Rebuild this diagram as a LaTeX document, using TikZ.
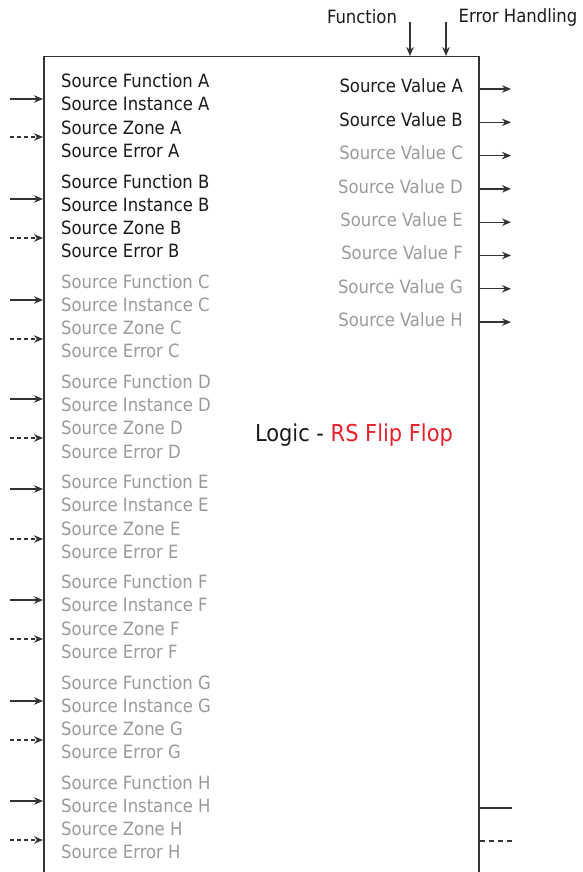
\documentclass[tikz,border=0pt]{standalone}
\usepackage{fontspec}
\setmainfont{DejaVu Sans Condensed}
\usepackage{xcolor}
\usetikzlibrary{arrows.meta}
\definecolor{edge}{HTML}{333333}
\definecolor{ink}{HTML}{1A1A1A}
\definecolor{idle}{HTML}{9A9A9A}
\definecolor{flip}{HTML}{E8202A}

\begin{document}
\begin{tikzpicture}[
  x=1pt, y=-1pt,
  font=\fontsize{18.3}{20}\selectfont,
  lbl/.style ={inner sep=0pt, anchor=west},
  val/.style ={inner sep=0pt, anchor=east},
  ar/.style  ={-{Stealth[length=9pt, width=7.5pt]}, edge, line width=1.3pt},
  ard/.style ={ar, dash pattern=on 4pt off 3pt},
  stub/.style={edge, line width=1.3pt}
]
\useasboundingbox (0,0) rectangle (582,872);
\clip (0,0) rectangle (582,872);

% =============== block ===============
\node[draw=edge, line width=1.5pt, anchor=north west, inner sep=0pt,
      minimum width=435pt, minimum height=860pt] (logic) at (43,56) {};
\node[font=\fontsize{23.3}{26}\selectfont, inner sep=0pt, text=ink] (title) at (354,435)
  {Logic - \textcolor{flip}{RS Flip Flop}};

% function and error handling enter from the top
\node[inner sep=0pt, text=ink] (fnlbl) at (362,17) {Function};
\node[inner sep=0pt, text=ink] (ehlbl) at (518,17) {Error Handling};
\coordinate (fnin) at (410,22);
\coordinate (ehin) at (446,22);
\draw[ar] (fnin) -- (fnin |- logic.north);
\draw[ar] (ehin) -- (ehin |- logic.north);

% =============== sources A..H ===============
% four lines per source, one solid and one dashed input beside each group
\foreach \s/\k/\ya/\yb/\c in {A/0/99/137/ink, B/1/199/238/ink, C/2/300/339/idle,
    D/3/399/438/idle, E/4/489/539/idle, F/5/600/639/idle, G/6/701/740/idle,
    H/7/801/840/idle}{
  \node[lbl, text=\c] (sf\s) at (61, 81+100.2*\k)  {Source Function \s};
  \node[lbl, text=\c] (si\s) at (61, 104.3+100.2*\k) {Source Instance \s};
  \node[lbl, text=\c] (sz\s) at (61, 127.6+100.2*\k) {Source Zone \s};
  \node[lbl, text=\c] (se\s) at (61, 150.9+100.2*\k) {Source Error \s};
  \coordinate (in\s) at (10,\ya);
  \coordinate (er\s) at (10,\yb);
  \draw[ar]  (in\s) -- (in\s -| logic.west);
  \draw[ard] (er\s) -- (er\s -| logic.west);
}

% =============== values A..H ===============
\foreach \s/\k/\c in {A/0/ink, B/1/ink, C/2/idle, D/3/idle, E/4/idle, F/5/idle,
    G/6/idle, H/7/idle}{
  \node[val, text=\c] (sv\s) at (463, 86+33.43*\k) {Source Value \s};
  \coordinate (out\s) at (511, 89+33.3*\k);
  \draw[ar] (out\s -| logic.east) -- (out\s);
}

% open outputs at the foot of the block
\coordinate (qout) at (512,808);
\coordinate (qerr) at (512,841);
\draw[stub] (qout -| logic.east) -- (qout);
\draw[stub, dash pattern=on 5pt off 4pt] (qerr -| logic.east) -- (qerr);
\end{tikzpicture}
\end{document}
